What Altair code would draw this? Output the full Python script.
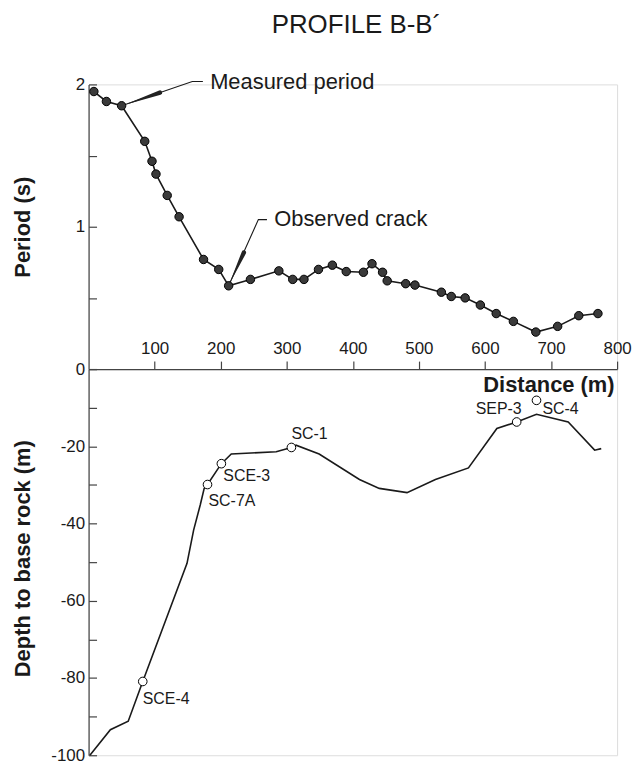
import altair as alt
import pandas as pd

# ---------------- data ----------------
dist_period = [8, 27, 50, 85, 96, 102, 119, 137, 174, 197, 212, 245, 288, 309, 326,
               348, 369, 390, 416, 429, 445, 452, 480, 494, 534, 549, 570, 593, 617,
               643, 677, 710, 742, 771]
period = [1.95, 1.88, 1.85, 1.60, 1.46, 1.37, 1.22, 1.07, 0.77, 0.70, 0.585, 0.63,
          0.69, 0.63, 0.63, 0.70, 0.73, 0.685, 0.68, 0.74, 0.68, 0.62, 0.60, 0.59,
          0.54, 0.51, 0.50, 0.45, 0.39, 0.335, 0.26, 0.30, 0.375, 0.39]

dist_depth = [2, 33, 60, 82, 149, 159, 169, 175, 180, 201, 216, 284, 307, 314, 349,
              410, 440, 482, 525, 575, 618, 648, 678, 726, 766, 776]
depth = [-100, -93.4, -91.2, -80.9, -50.3, -41.7, -35.2, -30.9, -29.9, -24.5, -22.0,
         -21.4, -20.3, -19.7, -22.0, -28.6, -30.9, -32.0, -28.6, -25.6, -15.4, -13.7,
         -11.7, -13.7, -21.0, -20.6]

stations = ["SCE-4", "SC-7A", "SCE-3", "SC-1", "SEP-3", "SC-4"]
station_dist = [82, 180, 201, 307, 648, 678]
station_depth = [-80.9, -29.9, -24.5, -20.3, -13.7, -8.1]

annot_text = ["Measured period", "Observed crack"]
annot_x = [184, 281]
annot_y = [2.02, 1.056]

# leader lines (group, order, distance, period)
leader_group = ["m", "m", "m", "o", "o", "o"]
leader_order = [0, 1, 2, 0, 1, 2]
leader_x = [50, 157, 173, 212, 257, 270]
leader_y = [1.85, 2.02, 2.02, 0.585, 1.05, 1.05]

# tapered wedges on the leaders (group, distance, period, width)
wedge_group = ["m", "m", "o", "o"]
wedge_x = [59, 108, 215, 235]
wedge_y = [1.864, 1.942, 0.618, 0.818]
wedge_w = [0.5, 4.5, 0.5, 4.5]

period_ticks = [0, 0.5, 1, 1.5, 2]
depth_ticks = [-100, -90, -80, -70, -60, -50, -40, -30, -20, -10, 0]
distance_ticks = [100, 200, 300, 400, 500, 600, 700, 800]

# ---------------- style ----------------
FONT = "Liberation Sans"
W = 531
H_TOP = 286
H_BOT = 388
INK = "#1a1a1a"
AXC = "#444444"

x_scale = alt.Scale(domain=[0, 800], nice=False, zero=False)
p_scale = alt.Scale(domain=[0, 2], nice=False, zero=False)
d_scale = alt.Scale(domain=[-100, 0], nice=False, zero=False)

df_p = pd.DataFrame({"dist": dist_period, "val": period})
df_d = pd.DataFrame({"dist": dist_depth, "val": depth})
df_s = pd.DataFrame({"dist": station_dist, "val": station_depth, "name": stations})
df_a = pd.DataFrame({"dist": annot_x, "val": annot_y, "txt": annot_text})
df_l = pd.DataFrame({"g": leader_group, "o": leader_order, "dist": leader_x, "val": leader_y})
df_w = pd.DataFrame({"g": wedge_group, "dist": wedge_x, "val": wedge_y, "w": wedge_w})

common_y_axis = dict(
    tickSize={"expr": "-8"}, tickColor=AXC, domainColor=AXC, domainWidth=1.2,
    tickWidth=1.2, labelFontSize=17, labelFont=FONT, labelColor=INK,
    labelPadding=12, grid=False, titleFont=FONT, titleFontSize=22,
    titleFontWeight="bold", titleColor=INK, titleAngle=-90, titleAlign="center",
    titleBaseline="middle", titleX=-66,
)

p_axis = alt.Axis(values=period_ticks, title="Period (s)",
                  labelExpr="datum.value % 1 == 0 ? '' + datum.value : ''",
                  titleY=H_TOP / 2, **common_y_axis)
d_axis = alt.Axis(values=depth_ticks, title="Depth to base rock (m)",
                  labelExpr="(datum.value % 20 == 0 && datum.value != 0) ? '' + datum.value : ''",
                  titleY=H_BOT / 2 - 4, **common_y_axis)

x_top = alt.X("dist:Q", scale=x_scale, axis=None)
y_top = alt.Y("val:Q", scale=p_scale, axis=p_axis)

line_p = alt.Chart(df_p).mark_line(color=INK, strokeWidth=1.6).encode(x=x_top, y=y_top)
pts_p = alt.Chart(df_p).mark_circle(size=72, color="#3a3a3a", stroke="#000000",
                                   strokeWidth=1, opacity=1).encode(x=x_top, y=y_top)
leaders = alt.Chart(df_l).mark_line(color=INK, strokeWidth=1.1).encode(
    x=x_top, y=y_top, detail="g:N", order="o:Q")
wedges = alt.Chart(df_w).mark_trail(color="#222222").encode(
    x=x_top, y=y_top, detail="g:N", size=alt.Size("w:Q", scale=None, legend=None))
annots = alt.Chart(df_a).mark_text(align="left", baseline="middle", fontSize=22,
                                  font=FONT, color=INK).encode(x=x_top, y=y_top, text="txt:N")

top = alt.layer(line_p, leaders, wedges, pts_p, annots).properties(width=W, height=H_TOP)

x_bot = alt.X("dist:Q", scale=x_scale, axis=alt.Axis(
    orient="top", values=distance_ticks, tickSize=8, tickColor=AXC, tickWidth=1.2,
    domainColor=AXC, domainWidth=1.2, labelFontSize=17, labelFont=FONT,
    labelColor=INK, labelPadding=4, labelFlush=False, labelOverlap=False, grid=False,
    title="Distance (m)", titleFont=FONT, titleFontSize=22, titleFontWeight="bold",
    titleColor=INK, titleAngle=0, titleAlign="right", titleBaseline="middle",
    titleX=528, titleY=16))
y_bot = alt.Y("val:Q", scale=d_scale, axis=d_axis)

line_d = alt.Chart(df_d).mark_line(color=INK, strokeWidth=1.6).encode(x=x_bot, y=y_bot)
pts_s = alt.Chart(df_s).mark_point(shape="circle", filled=True, fill="white", stroke="#000000",
                                  strokeWidth=1, size=75, opacity=1).encode(x=x_bot, y=y_bot)

# label placement per station (style only)
placement = {
    "SCE-4": dict(align="left", baseline="top", dx=0, dy=10),
    "SC-7A": dict(align="left", baseline="top", dx=1, dy=9),
    "SCE-3": dict(align="left", baseline="top", dx=2, dy=4),
    "SC-1": dict(align="left", baseline="bottom", dx=0, dy=-6),
    "SEP-3": dict(align="right", baseline="bottom", dx=5, dy=-5),
    "SC-4": dict(align="left", baseline="middle", dx=6, dy=9),
}
label_layers = []
for nm, pl in placement.items():
    label_layers.append(
        alt.Chart(df_s).transform_filter(alt.datum.name == nm).mark_text(
            fontSize=16, font=FONT, color=INK, **pl).encode(x=x_bot, y=y_bot, text="name:N"))

bottom = alt.layer(line_d, pts_s, *label_layers).properties(width=W, height=H_BOT)

chart = alt.vconcat(top, bottom, spacing=0, bounds="flush").properties(
    title=alt.TitleParams("PROFILE B-B´", fontSize=26, fontWeight="normal", font=FONT,
                          color=INK, anchor="middle", dx=35, offset=32),
    padding={"left": 11, "top": 10, "right": 5, "bottom": 0},
).configure_view(stroke=None).configure(background="white")

chart.save("out.html", embed_options={"renderer": "svg", "actions": False})
